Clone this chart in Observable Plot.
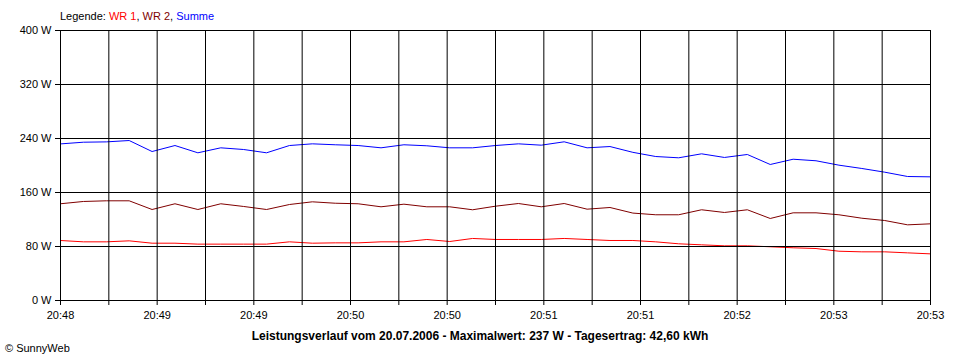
<!DOCTYPE html>
<html>
<head>
<meta charset="utf-8">
<script src="https://cdn.jsdelivr.net/npm/d3@7"></script>
<script src="https://cdn.jsdelivr.net/npm/@observablehq/plot@0.6"></script>
<style>
  html, body { margin: 0; padding: 0; background: #fff; }
  body { width: 960px; height: 360px; position: relative; overflow: hidden; font-family: "Liberation Sans", Arial, sans-serif; font-size: 11px; color: #000; }
  #chart { position: absolute; left: 0; top: 0; }
  .legend { position: absolute; left: 60px; top: 10px; white-space: nowrap; z-index: 2; }
  .title { position: absolute; left: 0; width: 960px; top: 329px; text-align: center; font-weight: bold; font-size: 12px; white-space: nowrap; z-index: 2; }
  .copy { position: absolute; left: 5px; top: 342px; white-space: nowrap; z-index: 2; }
</style>
</head>
<body>
<div id="chart"></div>
<div class="legend">Legende: <span style="color:#ff0000">WR 1</span>, <span style="color:#800000">WR 2</span>, <span style="color:#0000ff">Summe</span></div>
<div class="title">Leistungsverlauf vom 20.07.2006 - Maximalwert: 237 W - Tagesertrag: 42,60 kWh</div>
<div class="copy">© SunnyWeb</div>
<script>
// x labels (shown at every second vertical grid line)
const xLabels = ["20:48","20:49","20:49","20:50","20:50","20:51","20:51","20:52","20:53","20:53"];
const yTicks = [0, 80, 160, 240, 320, 400];

// WR 1 (red)
const wr1 = [88.9, 86.9, 86.9, 88.4, 84.9, 84.9, 83.5, 83.5, 83.5, 83.5,
             86.9, 84.9, 85.4, 85.4, 86.9, 86.9, 90.4, 87.4, 91.9, 90.4,
             90.4, 90.4, 91.9, 90.4, 88.9, 88.9, 86.9, 84.0, 82.5, 81.0,
             81.0, 79.6, 78.1, 77.0, 73.0, 72.1, 72.1, 70.6, 69.1];
// WR 2 (dark red)
const wr2 = [143.3, 146.7, 147.7, 147.7, 134.8, 143.3, 134.8, 143.3, 139.3, 134.8,
             142.2, 146.2, 144.1, 143.3, 138.8, 142.7, 138.8, 138.8, 134.4, 139.7,
             143.7, 138.8, 143.7, 135.3, 137.8, 129.5, 127.0, 127.0, 134.4, 130.4,
             134.4, 121.5, 129.9, 129.9, 127.0, 121.9, 118.5, 112.1, 113.6];
// Summe (blue)
const summe = [232.0, 234.5, 235.0, 237.0, 220.7, 229.6, 218.8, 226.2, 223.7, 218.8,
               229.6, 232.1, 230.7, 229.6, 226.2, 230.7, 229.2, 226.2, 226.2, 229.6,
               232.1, 230.1, 235.1, 226.2, 228.1, 219.5, 213.3, 211.4, 217.3, 211.9,
               216.3, 201.5, 209.3, 207.0, 200.5, 195.6, 190.1, 183.7, 183.2];

const n = summe.length;            // samples, evenly spaced
const last = n - 1;
const gridX = d3.range(19).map(k => k * last / 18);
const labelX = d3.range(10).map(k => k * last / 9);

const series = [
  {name: "WR 1", values: wr1, color: "#ff0000"},
  {name: "WR 2", values: wr2, color: "#800000"},
  {name: "Summe", values: summe, color: "#0000ff"}
];
const rows = series.flatMap(s => s.values.map((v, i) => ({i, v, name: s.name})));

const chart = Plot.plot({
  width: 960,
  height: 360,
  marginTop: 30,
  marginRight: 30,
  marginBottom: 60,
  marginLeft: 60,
  style: {fontFamily: "Liberation Sans, Arial, sans-serif", fontSize: "11px", color: "#000", background: "transparent", overflow: "visible"},
  x: {domain: [0, last], axis: null, label: null},
  y: {domain: [0, 400], axis: null, label: null},
  color: {domain: series.map(s => s.name), range: series.map(s => s.color)},
  marks: [
    Plot.line(rows, {x: "i", y: "v", z: "name", stroke: "name", strokeWidth: 1, strokeLinejoin: "miter"}),
    Plot.ruleY(yTicks, {stroke: "#000", strokeWidth: 1}),
    Plot.ruleX(gridX, {stroke: "#000", strokeWidth: 1}),
    Plot.axisY(yTicks, {anchor: "left", label: null, tickSize: 5, tickPadding: 4, tickFormat: d => `${d} W`, stroke: "#000", fill: "#000", fontSize: 11}),
    Plot.axisX(gridX, {anchor: "bottom", label: null, tickSize: 5, tickFormat: () => "", stroke: "#000"}),
    Plot.axisX(labelX, {anchor: "bottom", label: null, tickSize: 0, tickPadding: 11, tickFormat: d => xLabels[Math.round(d * 9 / last)], fill: "#000", fontSize: 11})
  ]
});
document.getElementById("chart").appendChild(chart);
</script>
</body>
</html>
